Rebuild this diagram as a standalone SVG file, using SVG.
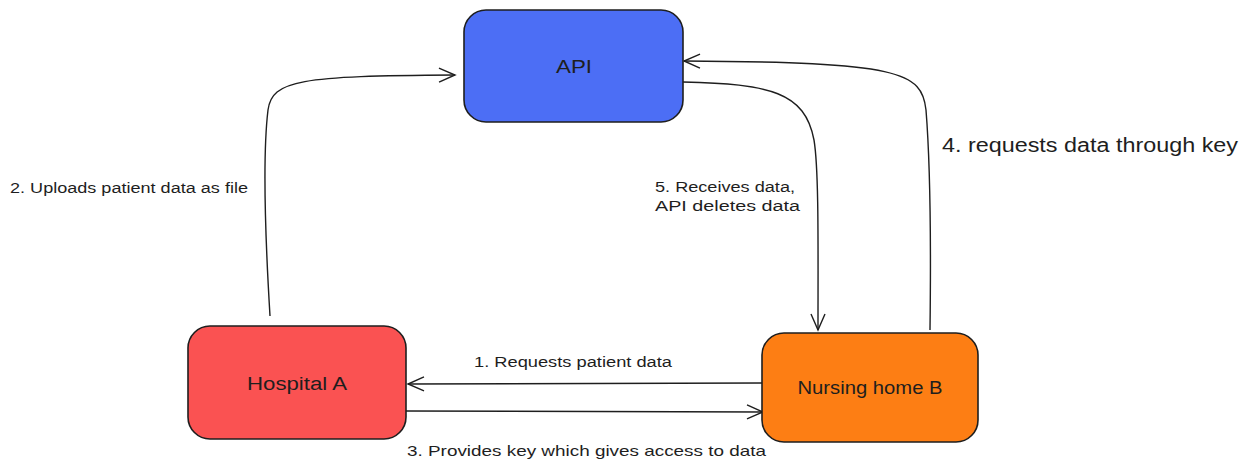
<svg xmlns="http://www.w3.org/2000/svg" width="1247" height="469" viewBox="0 0 1247 469">
<defs>
<style>
.box{stroke:#1e1e1e;stroke-width:1.6}
.lbl{font-family:"Liberation Sans","DejaVu Sans",sans-serif;fill:#1e1e1e}
.edge{fill:none;stroke:#1e1e1e;stroke-width:1.4}
</style>
<marker id="ah" viewBox="0 0 20 20" refX="18" refY="10" markerWidth="20" markerHeight="20" markerUnits="userSpaceOnUse" orient="auto">
<polyline points="2,3 18,10 2,17" fill="none" stroke="#1e1e1e" stroke-width="1.4"/>
</marker>
</defs>
<rect width="1247" height="469" fill="#ffffff"/>
<g id="connectors">
<path class="edge" marker-end="url(#ah)" d="M270,316 C266,250 262,160 268,110 C272,80 300,76 455,75"/>
<path class="edge" marker-end="url(#ah)" d="M683,82 C770,84 805,92 814,140 C819,170 818,250 818,330"/>
<path class="edge" marker-end="url(#ah)" d="M930,330 C931,250 930,160 926,110 C922,72 900,62 684,61"/>
<path class="edge" marker-end="url(#ah)" d="M762,383 L408,384"/>
<path class="edge" marker-end="url(#ah)" d="M406,411 L763,412"/>
</g>
<g id="node-api">
<rect class="box" x="464" y="10" width="219" height="112" rx="22" fill="#4c6ef5"/>
<text class="lbl" x="574" y="73" font-size="18" text-anchor="middle" textLength="36" lengthAdjust="spacingAndGlyphs">API</text>
</g>
<g id="node-hospital">
<rect class="box" x="188" y="326" width="218" height="113" rx="22" fill="#fa5252"/>
<text class="lbl" x="297" y="390" font-size="18" text-anchor="middle" textLength="100" lengthAdjust="spacingAndGlyphs">Hospital A</text>
</g>
<g id="node-nursing">
<rect class="box" x="762" y="333" width="216" height="109" rx="22" fill="#fd7e14"/>
<text class="lbl" x="870" y="394" font-size="18" text-anchor="middle" textLength="145" lengthAdjust="spacingAndGlyphs">Nursing home B</text>
</g>
<g id="labels">
<text class="lbl" x="10" y="193" font-size="14" textLength="238" lengthAdjust="spacingAndGlyphs">2. Uploads patient data as file</text>
<text class="lbl" x="655" y="192" font-size="14" textLength="140" lengthAdjust="spacingAndGlyphs">5. Receives data,</text>
<text class="lbl" x="655" y="211" font-size="14" textLength="145" lengthAdjust="spacingAndGlyphs">API deletes data</text>
<text class="lbl" x="942" y="152" font-size="20" textLength="296" lengthAdjust="spacingAndGlyphs">4. requests data through key</text>
<text class="lbl" x="474" y="367" font-size="14" textLength="198" lengthAdjust="spacingAndGlyphs">1. Requests patient data</text>
<text class="lbl" x="407" y="456" font-size="15" textLength="359" lengthAdjust="spacingAndGlyphs">3. Provides key which gives access to data</text>
</g>
</svg>
